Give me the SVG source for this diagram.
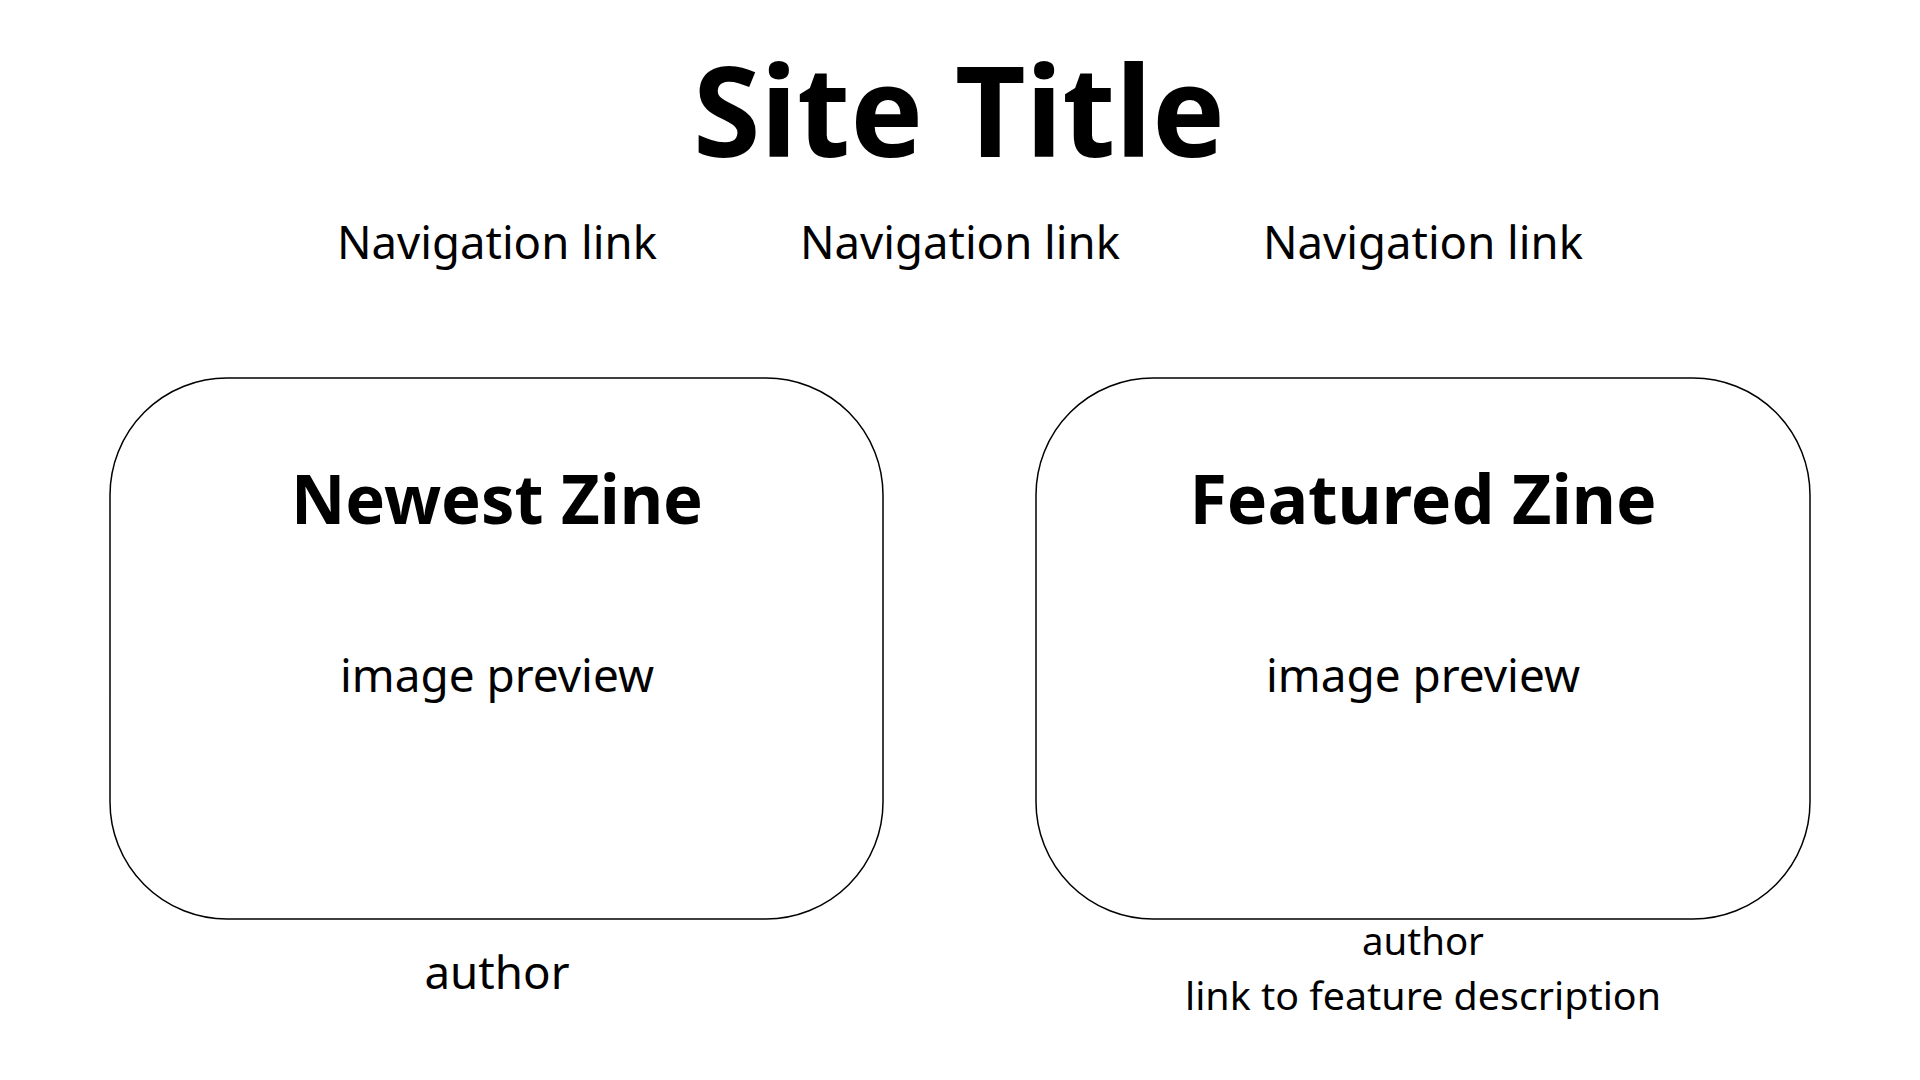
<svg xmlns="http://www.w3.org/2000/svg" width="1920" height="1080" viewBox="0 0 1920 1080">
  <style>
    text { font-family: "Noto Sans", "Open Sans", "Liberation Sans", sans-serif; fill: #000; text-anchor: middle; }
    .title { font-size: 126px; font-weight: 700; }
    .nav { font-size: 46px; }
    .heading { font-size: 68px; font-weight: 700; }
    .body { font-size: 46px; }
    .caption { font-size: 38px; }
    .card { fill: #fff; stroke: #000; stroke-width: 1.5; }
  </style>
  <rect width="1920" height="1080" fill="#fff"/>

  <g id="header">
    <text class="title" x="959" y="157" textLength="532" lengthAdjust="spacingAndGlyphs">Site Title</text>
  </g>

  <g id="nav">
    <text class="nav" x="497" y="259" textLength="320" lengthAdjust="spacingAndGlyphs">Navigation link</text>
    <text class="nav" x="960" y="259" textLength="320" lengthAdjust="spacingAndGlyphs">Navigation link</text>
    <text class="nav" x="1423" y="259" textLength="320" lengthAdjust="spacingAndGlyphs">Navigation link</text>
  </g>

  <g id="newest-zine">
    <rect class="card" x="110" y="378" width="773" height="541" rx="117" ry="117"/>
    <text class="heading" x="497" y="524" textLength="412" lengthAdjust="spacingAndGlyphs">Newest Zine</text>
    <text class="body" x="497" y="692" textLength="314" lengthAdjust="spacingAndGlyphs">image preview</text>
    <text class="body" x="497" y="989" textLength="145" lengthAdjust="spacingAndGlyphs">author</text>
  </g>

  <g id="featured-zine">
    <rect class="card" x="1036" y="378" width="774" height="541" rx="117" ry="117"/>
    <text class="heading" x="1423" y="524" textLength="467" lengthAdjust="spacingAndGlyphs">Featured Zine</text>
    <text class="body" x="1423" y="692" textLength="314" lengthAdjust="spacingAndGlyphs">image preview</text>
    <text class="caption" x="1423" y="955" textLength="122" lengthAdjust="spacingAndGlyphs">author</text>
    <text class="caption" x="1423" y="1010" textLength="476" lengthAdjust="spacingAndGlyphs">link to feature description</text>
  </g>

  <g id="connectors"/>
</svg>
